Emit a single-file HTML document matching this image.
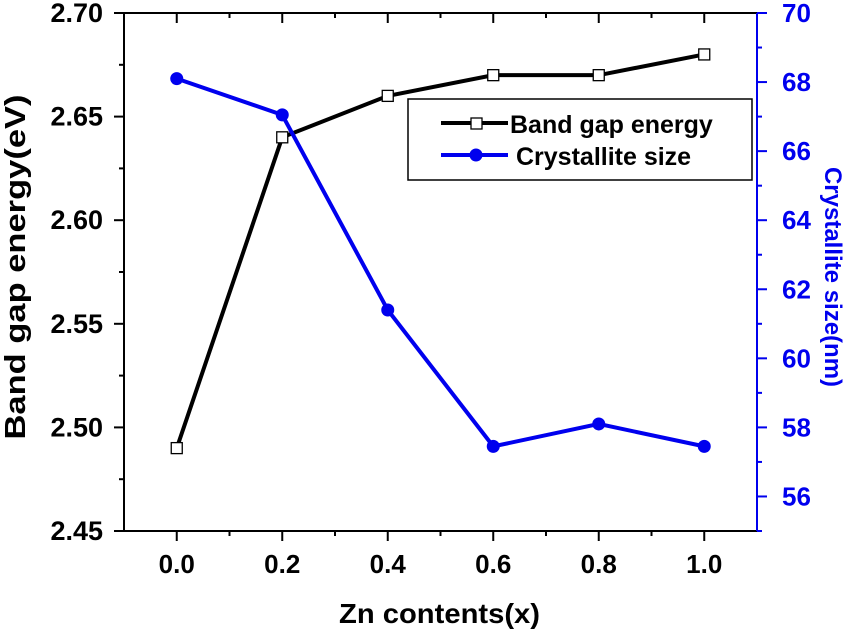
<!DOCTYPE html>
<html><head><meta charset="utf-8"><style>
html,body{margin:0;padding:0;background:#fff;}
svg{display:block;font-family:"Liberation Sans",Arial,sans-serif;font-weight:bold;}
</style></head><body>
<svg id="chart" width="844" height="632" viewBox="0 0 844 632" xmlns="http://www.w3.org/2000/svg"></svg>
<script>
const categories=[0,0.2,0.4,0.6,0.8,1.0];
const bandGap=[2.49,2.64,2.66,2.67,2.67,2.68];
const crystallite=[68.1,67.05,61.4,57.45,58.1,57.45];
const xTicks=["0.0","0.2","0.4","0.6","0.8","1.0"];
const yLeftTicks=["2.45","2.50","2.55","2.60","2.65","2.70"];
const yRightTicks=["56","58","60","62","64","66","68","70"];

const L=124,R=757,T=13,B=531;
const X=v=>L+(v+0.1)/1.2*(R-L);
const YL=v=>B-(v-2.45)/0.25*(B-T);
const YR=v=>B-(v-55)/15*(B-T);
const svg=document.getElementById('chart');
const NS="http://www.w3.org/2000/svg";
function el(tag,attrs,parent){const e=document.createElementNS(NS,tag);for(const k in attrs)e.setAttribute(k,attrs[k]);(parent||svg).appendChild(e);return e;}

let a;
a=el('line',{x1:L,y1:B,x2:R,y2:B,stroke:'#000','stroke-width':2});


a=el('line',{x1:L,y1:T,x2:R,y2:T,stroke:'#000','stroke-width':2});


a=el('line',{x1:L,y1:T,x2:L,y2:B,stroke:'#000','stroke-width':2});


a=el('line',{x1:R,y1:T,x2:R,y2:B,stroke:'#0000ee','stroke-width':2});



xTicks.forEach((t,i)=>{
  const x=X(categories[i]);
  el('line',{x1:x,y1:B,x2:x,y2:B+10,stroke:'#000','stroke-width':2});
  el('line',{x1:x,y1:T,x2:x,y2:T+10,stroke:'#000','stroke-width':2});
  const tx=el('text',{x:x,y:B+42,'text-anchor':'middle','font-size':26,fill:'#000'});
  tx.textContent=t;
  
  
});
for(let v=0.1;v<1.0;v+=0.2){const x=X(v);
  el('line',{x1:x,y1:B,x2:x,y2:B+5,stroke:'#000','stroke-width':2});
  el('line',{x1:x,y1:T,x2:x,y2:T+5,stroke:'#000','stroke-width':2});}
yLeftTicks.forEach(t=>{
  const y=YL(parseFloat(t));
  el('line',{x1:L-10,y1:y,x2:L,y2:y,stroke:'#000','stroke-width':2});
  const tx=el('text',{x:L-21,y:y+9,'text-anchor':'end','font-size':27,fill:'#000'});
  tx.textContent=t;
  
  
});
for(let v=2.475;v<2.7;v+=0.05){const y=YL(v);el('line',{x1:L-5,y1:y,x2:L,y2:y,stroke:'#000','stroke-width':2});}
yRightTicks.forEach(t=>{
  const y=YR(parseFloat(t));
  el('line',{x1:R,y1:y,x2:R+10,y2:y,stroke:'#0000ee','stroke-width':2});
  const tx=el('text',{x:R+25,y:y+9,'text-anchor':'start','font-size':26,fill:'#0000ee'});
  tx.textContent=t;
  
  
});
for(let v=55;v<70;v+=2){const y=YR(v);el('line',{x1:R,y1:y,x2:R+5,y2:y,stroke:'#0000ee','stroke-width':2});}

let t;
t=el('text',{x:339,y:623,'font-size':28,fill:'#000',textLength:201,lengthAdjust:'spacingAndGlyphs'});t.textContent='Zn contents(x)';


t=el('text',{x:0,y:0,transform:'translate(25,267) rotate(-90)','text-anchor':'middle','font-size':29,fill:'#000',textLength:345,lengthAdjust:'spacingAndGlyphs'});t.textContent='Band gap energy(eV)';


t=el('text',{x:0,y:0,transform:'translate(825,277) rotate(90)','text-anchor':'middle','font-size':24,fill:'#0000ee'});t.textContent='Crystallite size(nm)';



const p1=el('polyline',{points:categories.map((c,i)=>X(c)+','+YL(bandGap[i])).join(' '),fill:'none',stroke:'#000','stroke-width':4});


const p2=el('polyline',{points:categories.map((c,i)=>X(c)+','+YR(crystallite[i])).join(' '),fill:'none',stroke:'#0000ee','stroke-width':4});


categories.forEach((c,i)=>{
  const s=el('rect',{x:X(c)-5.5,y:YL(bandGap[i])-5.5,width:11,height:11,fill:'#fff',stroke:'#000','stroke-width':1.3});
  
  
  const d=el('circle',{cx:X(c),cy:YR(crystallite[i]),r:6.5,fill:'#0000ee'});
  
  
});

const g=el('g',{});


el('rect',{x:408,y:99,width:344,height:81,fill:'#fff',stroke:'#000','stroke-width':1.5},g);
el('line',{x1:441,y1:123,x2:508,y2:123,stroke:'#000','stroke-width':4},g);
el('rect',{x:471,y:118,width:11,height:11,fill:'#fff',stroke:'#000','stroke-width':1.3},g);
t=el('text',{x:510,y:133,'font-size':25,fill:'#000'},g);t.textContent='Band gap energy';


el('line',{x1:441,y1:155,x2:508,y2:155,stroke:'#0000ee','stroke-width':4},g);
el('circle',{cx:476,cy:155,r:6.5,fill:'#0000ee'},g);
t=el('text',{x:516,y:165,'font-size':25,fill:'#000'},g);t.textContent='Crystallite size';


</script>
</body></html>
